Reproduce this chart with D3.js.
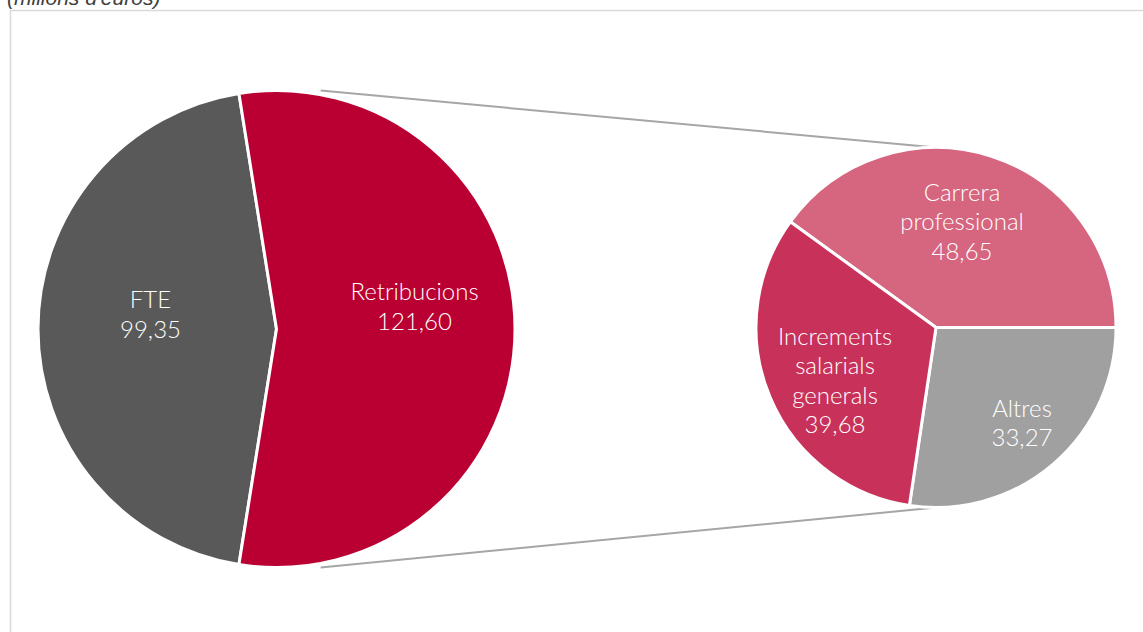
<!DOCTYPE html>
<html><head><meta charset="utf-8">
<script src="https://cdn.jsdelivr.net/npm/d3@7"></script>
<style>html,body{margin:0;padding:0;background:#fff;}svg{display:block;}</style>
</head><body>
<svg id="chart" width="1143" height="632"></svg>
<script>
const mainCategories = ["FTE", "Retribucions"];
const mainValues = [99.35, 121.60];
const subCategories = [["Carrera", "professional"], ["Altres"], ["Increments", "salarials", "generals"]];
const subValues = [48.65, 33.27, 39.68];
const unitLabel = "(milions d'euros)";

const mainColors = ["#595959", "#BA0032"];
const subColors = ["#D66580", "#A0A0A0", "#C8325A"];
const fmt = v => d3.format(".2f")(v).replace(".", ",");

const svg = d3.select("#chart");
// frame
svg.append("path").attr("d", "M10.5,632 V10.5 H1143")
  .attr("fill", "none").attr("stroke", "#d9d9d9").attr("stroke-width", 1.5);
svg.append("text").attr("x", 7).attr("y", 5).attr("font-family", "Liberation Sans, Arial, sans-serif")
  .attr("font-style", "italic").attr("font-size", 21).attr("fill", "#404040").text(unitLabel);

const mainC = [276.5, 329], mainR = 238.5;
const subC = [936, 327.5], subR = 180;
const fontFam = "Lato, 'Open Sans', sans-serif";
const fontWeight = 300;
const fontSize = 24;

// main pie: split slice centered at 90deg (right)
const total = d3.sum(mainValues);
const retAng = mainValues[1] / total * 2 * Math.PI;
const mainPie = d3.pie().sort(null).value(d => d)
  .startAngle(Math.PI / 2 + retAng / 2).endAngle(Math.PI / 2 + retAng / 2 + 2 * Math.PI);
const mainArcs = mainPie(mainValues);
const mainArc = d3.arc().innerRadius(0).outerRadius(mainR);
const gMain = svg.append("g").attr("transform", `translate(${mainC})`);

// connectors
const subTotal = d3.sum(subValues);
const connAng = 0.183;
const connR = mainR + 4;
const lines = [
  [[mainC[0] + connR * Math.sin(connAng), mainC[1] - connR * Math.cos(connAng)], [subC[0], subC[1] - subR]],
  [[mainC[0] + connR * Math.sin(connAng), mainC[1] + connR * Math.cos(connAng)], [subC[0], subC[1] + subR]]
];
svg.selectAll("line.conn").data(lines).join("line").attr("class", "conn")
  .attr("x1", d => d[0][0]).attr("y1", d => d[0][1]).attr("x2", d => d[1][0]).attr("y2", d => d[1][1])
  .attr("stroke", "#a6a6a6").attr("stroke-width", 2);

gMain.selectAll("path").data(mainArcs).join("path")
  .attr("d", mainArc).attr("fill", (d, i) => mainColors[i])
  .attr("stroke", "#fff").attr("stroke-width", 3).attr("stroke-linejoin", "round");

const mainLabelPos = [[-126, -21], [138, -29]];
mainArcs.forEach((a, i) => {
  const t = gMain.append("text").attr("text-anchor", "middle").attr("fill", "#fff")
    .attr("font-family", fontFam).attr("font-weight", fontWeight).attr("font-size", fontSize);
  [mainCategories[i], fmt(mainValues[i])].forEach((s, j) =>
    t.append("tspan").attr("x", mainLabelPos[i][0]).attr("y", mainLabelPos[i][1] + j * 29.5).text(s));
});

// sub pie: first slice ends at 90deg
const carAng = subValues[0] / subTotal * 2 * Math.PI;
const subPie = d3.pie().sort(null).value(d => d)
  .startAngle(Math.PI / 2 - carAng).endAngle(Math.PI / 2 - carAng + 2 * Math.PI);
const subArcs = subPie(subValues);
const subArc = d3.arc().innerRadius(0).outerRadius(subR);
const gSub = svg.append("g").attr("transform", `translate(${subC})`);
gSub.selectAll("path").data(subArcs).join("path")
  .attr("d", subArc).attr("fill", (d, i) => subColors[i])
  .attr("stroke", "#fff").attr("stroke-width", 3).attr("stroke-linejoin", "round");

const subLabelPos = [[26, -127], [86, 89], [-101, 17]];
subArcs.forEach((a, i) => {
  const t = gSub.append("text").attr("text-anchor", "middle").attr("fill", "#fff")
    .attr("font-family", fontFam).attr("font-weight", fontWeight).attr("font-size", fontSize);
  [...subCategories[i], fmt(subValues[i])].forEach((s, j) =>
    t.append("tspan").attr("x", subLabelPos[i][0]).attr("y", subLabelPos[i][1] + j * 29.5).text(s));
});
</script>
</body></html>
